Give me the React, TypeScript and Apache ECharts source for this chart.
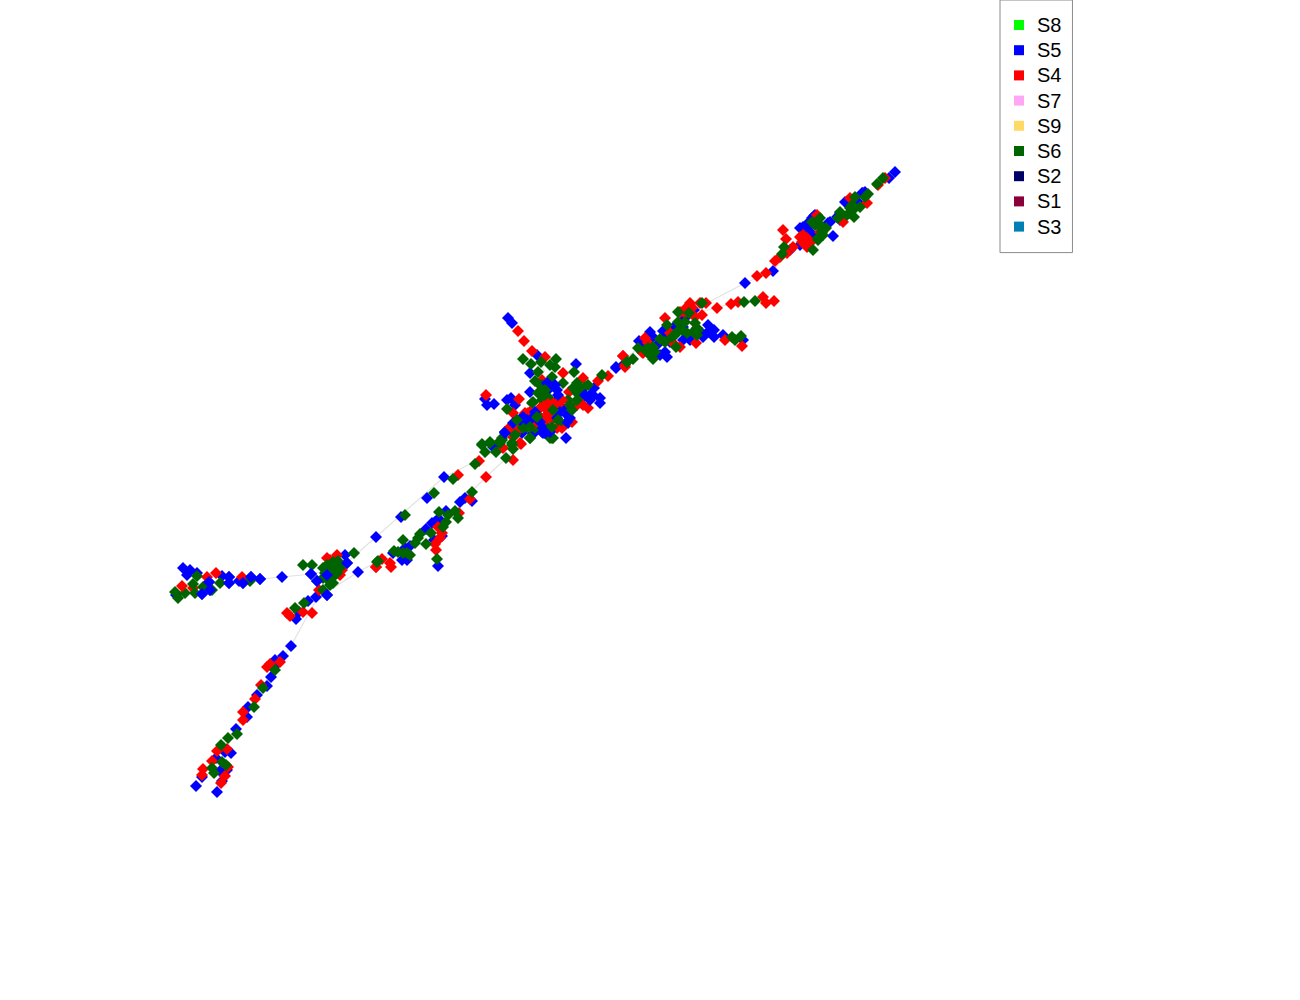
import React, { useEffect, useRef } from "react";
import * as echarts from "echarts";

const legendNames = ["S8", "S5", "S4", "S7", "S9", "S6", "S2", "S1", "S3"];
const colors: Record<string, string> = {
  S8: "#00ff00", S5: "#0000ff", S4: "#ff0000", S7: "#ffa6f5", S9: "#ffd966",
  S6: "#006400", S2: "#000066", S1: "#8b0038", S3: "#007fb5",
};

const s5: number[][] = [
  [183,568],[190,570],[187,575],[197,573],[222,576],[229,577],[229,583],[239,581],[243,583],[251,577],[260,579],[282,577],[209,582],[210,590],[202,594],[176,595],
  [311,574],[345,555],[347,563],[317,581],[316,597],[327,595],[358,572],[327,575],[299,612],[296,619],[308,601],
  [291,646],[283,656],[275,660],[277,664],[271,677],[267,686],[257,695],[248,707],[247,717],[236,729],
  [225,752],[231,753],[216,758],[220,771],[227,770],[202,777],[222,781],[196,786],[217,792],
  [376,537],[401,517],[427,498],[444,477],[493,447],[505,432],[522,433],[533,434],[543,433],
  [460,502],[465,498],[472,501],[446,511],[435,522],[440,520],[442,536],[426,529],[434,540],[438,566],[437,520],[432,523],
  [410,546],[405,548],[393,553],[402,560],[407,560],
  [508,318],[512,323],[537,355],[530,373],[576,364],[616,368],[624,364],[590,395],[600,398],[600,403],[594,388],[566,438],
  [530,392],[511,398],[507,400],[485,399],[487,405],[494,404],[515,405],[505,432],[522,417],[542,432],[555,402],[563,408],[568,423],[545,417],[533,433],[557,390],[550,383],[548,405],
  [745,283],[616,367],[650,332],[639,341],[647,345],[663,331],[667,357],[660,355],[690,340],[703,337],[708,325],[714,330],[714,337],[723,335],[743,340],[694,310],[673,330],[683,327],
  [673,328],[678,328],[683,340],[688,337],[653,337],[643,342],[657,345],[665,352],[708,332],[702,333],[685,318],[665,338],[670,342],
  [773,271],[790,250],[800,228],[803,227],[810,232],[808,223],[814,216],[833,236],[830,222],[840,213],[840,218],[845,202],[858,202],[865,192],[862,193],[889,178],[895,172],
  [812,218],[815,215],[808,227],[812,235],[800,245],[837,217],[840,220],[828,223],[855,200],[863,193],
];

const s4: number[][] = [
  [216,573],[207,577],[242,577],[193,588],
  [327,558],[337,555],[333,573],[319,590],[340,575],[376,567],[287,613],[290,616],[312,613],[303,612],[330,560],[342,570],
  [280,662],[267,667],[270,664],[261,685],[255,699],[243,712],[243,720],
  [217,751],[227,749],[212,761],[228,767],[203,769],[202,775],[225,776],[221,783],
  [458,475],[479,461],[486,477],[513,460],[510,427],[521,444],[503,448],[513,437],
  [470,499],[459,513],[438,527],[442,533],[440,538],[435,544],[436,550],
  [376,567],[382,559],[390,563],[391,567],
  [518,331],[524,341],[532,351],[545,357],[563,373],[583,378],[598,381],[608,376],[623,356],[625,367],[588,408],
  [486,395],[519,399],[513,413],[510,428],[520,428],[520,443],
  [569,392],[552,402],[550,412],[545,408],[528,413],[562,428],[572,422],[542,380],[557,403],[552,420],[582,398],
  [623,356],[625,365],[717,308],[731,304],[738,302],[763,297],[766,303],[774,301],[742,346],[725,340],[696,343],[665,318],[686,308],[690,303],[706,303],[702,315],[645,338],[648,343],[643,353],[680,347],[670,333],[685,313],
  [680,312],[692,308],[672,335],[647,352],[690,305],[700,303],[695,317],[673,343],[642,352],[652,353],
  [757,276],[766,273],[775,261],[783,230],[786,239],[793,247],[787,253],[803,238],[805,243],[808,240],[800,237],[807,247],[780,257],[878,185],[885,178],[867,203],[843,222],[850,198],[817,215],[820,232],
  [805,242],[810,243],[803,235],[802,242],[807,238],
];

const s6: number[][] = [
  [197,576],[193,584],[220,583],[203,587],[195,593],[185,593],[178,598],[175,592],[250,581],[212,590],
  [303,565],[312,565],[354,553],[323,568],[338,561],[337,570],[330,575],[323,578],[330,585],[323,590],[338,565],[335,575],[377,562],
  [327,565],[333,562],[332,568],[340,568],[337,573],[325,573],[328,580],[333,583],
  [295,608],[304,603],[275,670],[263,688],[254,707],[237,734],[228,738],
  [221,745],[222,762],[226,765],[212,768],[214,773],
  [405,515],[434,493],[453,479],[475,464],[506,458],
  [482,444],[485,452],[490,443],[496,452],[502,440],[513,449],[512,443],[515,434],[530,438],[552,438],[535,428],[523,428],
  [472,492],[455,511],[458,518],[439,512],[448,515],[446,522],[443,527],[437,559],[431,533],[420,534],[418,538],[403,540],[415,543],[426,544],[394,551],[403,553],[410,555],[378,561],[398,552],[407,553],
  [523,359],[531,364],[556,359],[541,362],[550,365],[555,367],[538,372],[574,372],[552,377],[535,381],[542,385],[563,383],[577,383],[573,388],[588,385],[582,393],
  [602,375],[627,362],[507,409],[532,403],[527,427],[533,425],[568,400],[550,438],[553,438],
  [540,385],[548,397],[542,400],[533,402],[580,388],[585,387],[577,393],[555,415],[538,415],[547,427],[560,422],[523,427],[502,438],[500,443],
  [482,445],[490,442],[500,441],[512,445],
  [744,302],[755,301],[702,303],[678,312],[689,313],[667,325],[678,322],[685,322],[695,323],[698,330],[697,335],[687,333],[677,332],[672,337],[660,339],[676,347],[655,352],[653,359],[638,348],[648,348],[633,359],[627,362],[732,337],[735,340],[741,336],
  [697,328],[693,332],[682,330],[675,335],[665,342],[653,347],[645,350],[650,355],
  [784,247],[782,254],[813,250],[818,238],[823,235],[826,228],[820,218],[812,222],[818,225],[840,212],[852,205],[855,197],[868,194],[860,207],[850,213],[854,217],[877,184],[883,178],[838,218],
  [820,225],[815,225],[822,232],[818,240],[850,208],[853,210],[847,215],[865,197],
];

const s4Top: number[][] = [
  [182,586],[547,403],[552,405],[547,415],[552,417],[545,420],[530,412],[525,413],[540,408],[558,405],[562,400],[570,405],[577,405],[535,423],[557,428],[512,430],[583,405],
];

const s5Top: number[][] = [
  [209,582],[210,590],[202,594],[229,577],[229,583],[260,579],[243,583],[251,577],[327,575],[311,574],[347,563],[317,581],[327,595],
  [567,415],[570,418],[560,412],[557,418],[540,422],[527,420],[523,417],[532,418],[543,428],[550,432],[545,433],[513,423],[505,433],[590,400],[593,395],[585,395],[550,388],[547,383],[558,395],[555,385],[535,412],[520,420],[567,422],
];

const s6Top: number[][] = [
  [545,390],[545,395],[538,393],[553,410],[537,417],[558,420],[552,427],[530,427],[530,438],[570,405],[577,400],[572,410],[517,420],[515,435],
];

const edgeLower: number[][] = [[217,751],[236,729],[262,686],[291,646],[316,600],[338,570],[376,537],[444,477],[506,446]];
const edgeLeft: number[][] = [[229,582],[260,579],[282,577],[311,574],[330,570]];
const edgeMiddle: number[][] = [[327,592],[358,572],[378,561],[394,551]];
const edgeMiddleUp: number[][] = [[460,503],[486,477],[513,452]];
const edgeTop: number[][] = [[690,312],[745,283],[773,271],[790,250]];
const edgeRight: number[][] = [[700,312],[738,302],[774,301]];
const edgeCentre: number[][] = [[598,381],[623,360],[650,340]];
const edgeSpur: number[][] = [[512,323],[532,351],[545,372]];
const edgeFoot: number[][] = [[236,729],[220,760],[217,792]];
const edges = [edgeLower, edgeLeft, edgeMiddle, edgeMiddleUp, edgeTop, edgeRight, edgeCentre, edgeSpur, edgeFoot];

const seriesData: Record<string, number[][]> = { S5: s5, S4: s4, S6: s6 };

export default function App() {
  const ref = useRef<HTMLDivElement>(null);
  useEffect(() => {
    const chart = echarts.init(ref.current!, undefined, { renderer: "svg" });
    const edgeSeries = edges.map((e, i) => ({
      name: "edge" + i,
      type: "line",
      data: e,
      showSymbol: false,
      silent: true,
      lineStyle: { color: "#e2e2e2", width: 1.2 },
      z: 1,
    }));
    const scatter = (n: string, data: number[][]) => ({
      name: n,
      type: "scatter",
      data,
      symbol: "diamond",
      symbolSize: 12,
      itemStyle: { color: colors[n], opacity: 1 },
      z: 2,
    });
    const scatterSeries = legendNames.map((n) => scatter(n, seriesData[n] || []));
    chart.setOption({
      animation: false,
      backgroundColor: "#ffffff",
      grid: { left: 0, right: 0, top: 0, bottom: 0 },
      xAxis: { type: "value", min: 0, max: 1300, show: false },
      yAxis: { type: "value", min: 0, max: 1000, inverse: true, show: false },
      legend: {
        data: legendNames,
        orient: "vertical",
        left: 1000,
        top: 0,
        padding: [15, 11, 16, 14],
        itemWidth: 26,
        itemHeight: 10,
        itemGap: 5.2,
        icon: "path://M0 0H10V10H0Z",
        borderColor: "#8a8a8a",
        borderWidth: 1,
        backgroundColor: "#ffffff",
        selectedMode: false,
        textStyle: { fontFamily: "Liberation Sans", fontSize: 20, color: "#000000" },
      },
      series: [...edgeSeries, ...scatterSeries, scatter("S4", s4Top), scatter("S5", s5Top), scatter("S6", s6Top)],
    });
    return () => chart.dispose();
  }, []);
  return <div ref={ref} style={{ position: "absolute", left: 0, top: 0, width: 1300, height: 1000 }} />;
}
